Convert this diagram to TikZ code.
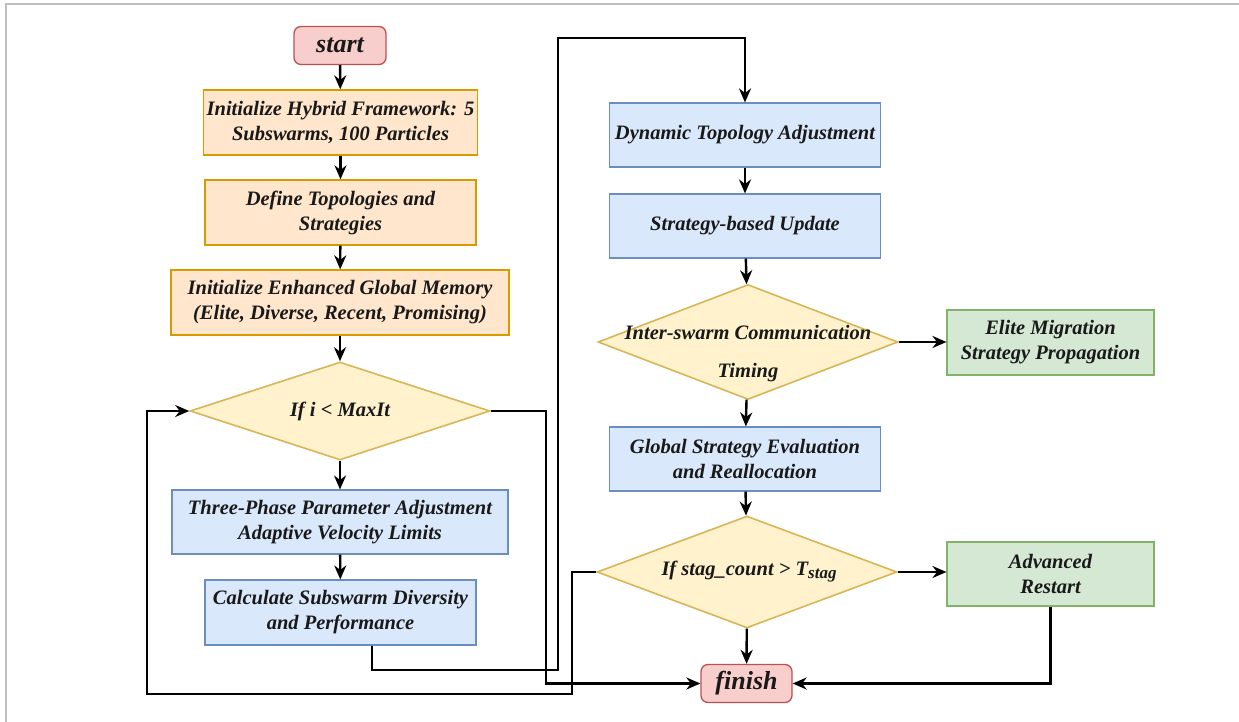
\documentclass[tikz,border=0pt]{standalone}
\usepackage{fontspec}
\setmainfont{Liberation Serif}
\usetikzlibrary{shapes.geometric,arrows.meta}
\definecolor{termfill}{HTML}{F8CECC}
\definecolor{termline}{HTML}{B85450}
\definecolor{orfill}{HTML}{FFE6CC}
\definecolor{orline}{HTML}{D79B00}
\definecolor{blfill}{HTML}{DAE8FC}
\definecolor{blline}{HTML}{6C8EBF}
\definecolor{grfill}{HTML}{D5E8D4}
\definecolor{grline}{HTML}{82B366}
\definecolor{dcfill}{HTML}{FFF2CC}
\definecolor{dcline}{HTML}{D6B656}
\begin{document}
\begin{tikzpicture}[x=1pt,y=-1pt,
  every node/.style={font=\fontsize{20.5}{25}\selectfont\bfseries\itshape,align=center,text=black!90},
  term/.style={draw=termline,fill=termfill,line width=1.3pt,rounded corners=7pt,minimum height=38pt,font=\fontsize{26}{26}\selectfont\bfseries\itshape},
  orbox/.style={draw=orline,fill=orfill,line width=1.3pt,minimum height=65pt},
  blbox/.style={draw=blline,fill=blfill,line width=1.1pt,minimum height=64pt},
  grbox/.style={draw=grline,fill=grfill,line width=1.1pt,minimum height=65pt,minimum width=207pt},
  decision/.style={diamond,draw=dcline,fill=dcfill,line width=1.6pt,inner sep=0pt,minimum width=300pt},
  flow/.style={line width=2.4pt,-{Stealth[length=14pt,width=12pt]}},
  link/.style={line width=2.4pt}]
\useasboundingbox (0,0) rectangle (1239,722);
\draw[black!25,line width=2pt] (5.5,722) -- (5.5,4.5) -- (1239,4.5);

% left column
\node[term,minimum width=92pt] (start) at (340,45.5) {start};
\node[orbox,minimum width=271pt] (init) at (340.5,122.5) {Initialize Hybrid Framework: 5\\Subswarms, 100 Particles};
\node[orbox,minimum width=271pt] (topo) at (340.5,212.5) {Define Topologies and\\Strategies};
\node[orbox,minimum width=338pt] (mem) at (340,302.5) {Initialize Enhanced Global Memory\\(Elite, Diverse, Recent, Promising)};
\node[decision,minimum height=98pt] (loop) at (340,411) {};
\node (looptext) at (340,411) {If i < MaxIt};
\node[blbox,minimum width=336pt] (phase) at (340,522) {Three-Phase Parameter Adjustment\\Adaptive Velocity Limits};
\node[blbox,minimum width=271pt,minimum height=65pt] (div) at (340.5,612.5) {Calculate Subswarm Diversity\\and Performance};

% right column
\node[blbox,minimum width=271pt] (dyn) at (745,135) {Dynamic Topology Adjustment};
\node[blbox,minimum width=271pt] (upd) at (745,226) {Strategy-based Update};
\node[decision,minimum height=115pt] (comm) at (748,342) {};
\node (commtext) at (748,354) {Inter-swarm Communication\\[13pt]Timing};
\node[grbox] (elite) at (1050.5,342.5) {Elite Migration\\Strategy Propagation};
\node[blbox,minimum width=271pt] (glob) at (745,459) {Global Strategy Evaluation\\and Reallocation};
\node[decision,minimum height=112pt] (stag) at (747,572) {};
\node (stagtext) at (749,572) {If stag\_count > T\raisebox{-3pt}{\fontsize{17}{17}\selectfont stag}};
\node[grbox,minimum height=64pt] (rst) at (1050.5,574) {Advanced\\Restart};
\node[term,minimum width=91pt] (fin) at (746.5,683.5) {finish};

\draw[flow] (start) -- (init);
\draw[flow] (init) -- (topo);
\draw[flow] (topo) -- (mem);
\draw[flow] (mem) -- (loop);
\draw[flow] (loop) -- (phase);
\draw[flow] (phase) -- (div);
\draw[flow] ([xshift=31.5pt]div.south) |- (558,670) -- (558,38) -| (dyn.north);
\draw[flow] (loop.east) -- (546,411) |- (fin.west);
\draw[flow] (dyn) -- (upd);
\draw[flow] (upd) -- (comm);
\draw[flow] (comm) -- (glob);
\draw[flow] (comm.east) -- (comm.east -| elite.west);
\draw[flow] (glob) -- (stag);
\draw[flow] (stag) -- (fin);
\draw[flow] (stag.east) -- (stag.east -| rst.west);
\draw[flow] (rst.south) |- (fin.east);
\draw[flow] (stag.west) -- (572,572) |- (147,694) |- (loop.west);
\end{tikzpicture}
\end{document}
